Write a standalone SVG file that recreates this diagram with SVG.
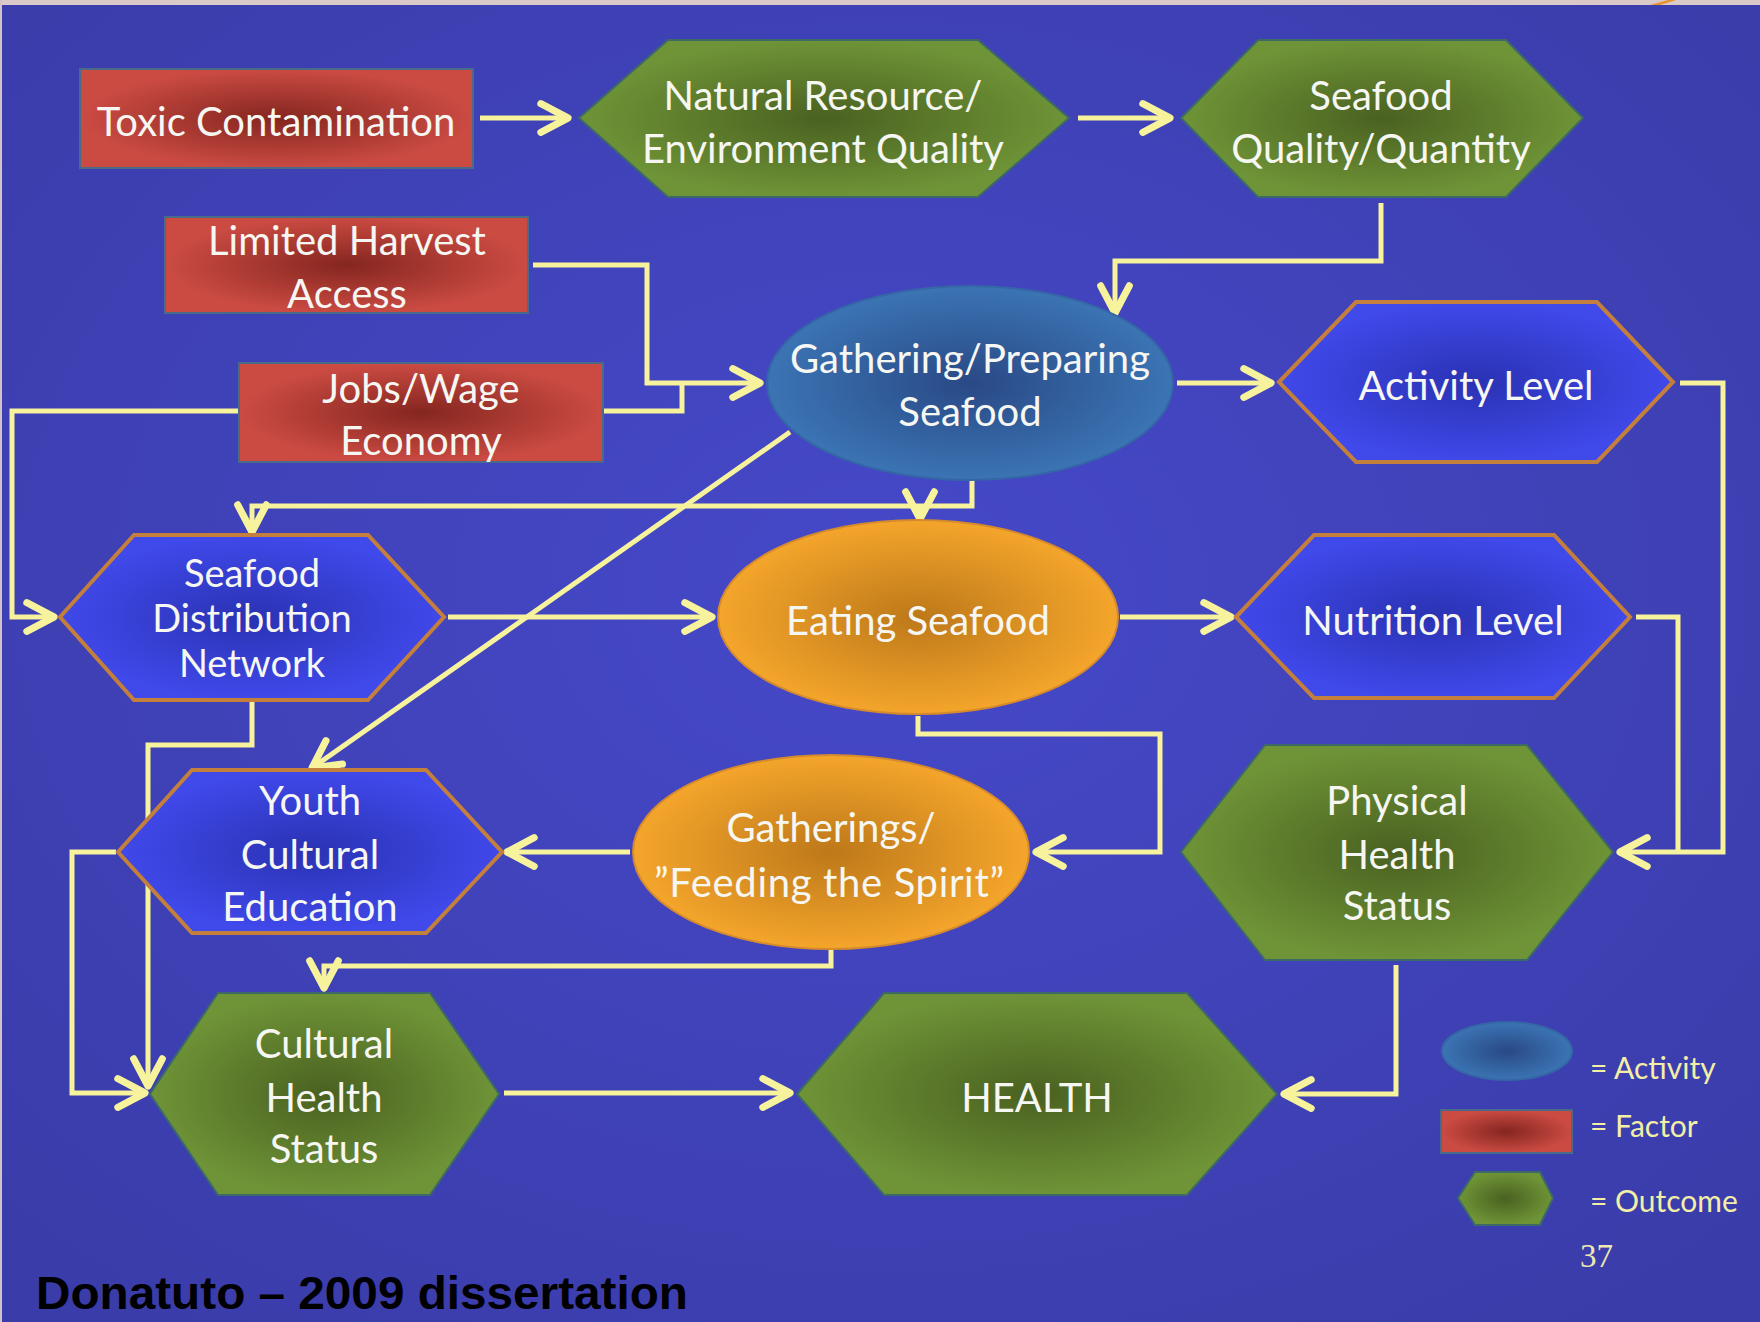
<svg xmlns="http://www.w3.org/2000/svg" width="1760" height="1322" viewBox="0 0 1760 1322">
<defs>
<radialGradient id="bg" cx="0.5" cy="0.45" r="0.7">
<stop offset="0" stop-color="#4649c9"/><stop offset="1" stop-color="#3a3ca9"/>
</radialGradient>
<radialGradient id="gRed" cx="0.5" cy="0.5" r="0.5">
<stop offset="0" stop-color="#84261f"/><stop offset="1" stop-color="#cb4b43"/>
</radialGradient>
<radialGradient id="gGreen" cx="0.5" cy="0.5" r="0.5">
<stop offset="0" stop-color="#4a6120"/><stop offset="1" stop-color="#6f9437"/>
</radialGradient>
<radialGradient id="gBlue" cx="0.5" cy="0.5" r="0.5">
<stop offset="0" stop-color="#2a32b3"/><stop offset="1" stop-color="#4049ea"/>
</radialGradient>
<radialGradient id="gAct" cx="0.5" cy="0.5" r="0.5">
<stop offset="0" stop-color="#294985"/><stop offset="1" stop-color="#3b74b4"/>
</radialGradient>
<radialGradient id="gOr" cx="0.5" cy="0.5" r="0.5">
<stop offset="0" stop-color="#bd7819"/><stop offset="1" stop-color="#f4a52b"/>
</radialGradient>
<marker id="arr" markerUnits="userSpaceOnUse" markerWidth="40" markerHeight="40" refX="0" refY="0" viewBox="-24 -14 28 28" orient="auto" overflow="visible">
<path d="M-19,-10 L0,0 L-19,10" fill="none" stroke="#f7f29c" stroke-width="5" stroke-linecap="round" stroke-linejoin="round"/>
</marker>
</defs>
<style>
.lbl{font-family:Lato,"Open Sans","Liberation Sans",sans-serif;font-size:40px;fill:#f6f6f2;text-anchor:middle}
.sm{font-size:38px}
.leg{font-family:Lato,"Open Sans","Liberation Sans",sans-serif;font-size:30px;fill:#f4efa6}
.fac{fill:url(#gRed);stroke:#4a6a8a;stroke-width:2}
.out{fill:url(#gGreen);stroke:#3d6a66;stroke-width:2}
.blu{fill:url(#gBlue);stroke:#c47f3c;stroke-width:4}
.act{fill:url(#gAct);stroke:#3566a6;stroke-width:2}
.eat{fill:url(#gOr);stroke:#d58a2c;stroke-width:2}
.c{fill:none;stroke:#f7f29c;stroke-width:5;stroke-linejoin:miter}
.a{marker-end:url(#arr)}
</style>
<rect x="0" y="0" width="1760" height="1322" fill="url(#bg)"/>
<rect x="0" y="0" width="1760" height="5" fill="#d9c9c9"/>
<rect x="0" y="0" width="2" height="1322" fill="#d0c4c8"/>
<path d="M1650,5 L1668,0 L1676,0 L1660,5 Z" fill="#e8922a"/>

<g id="connectors">
<path class="c a" d="M480,118 H568"/>
<path class="c a" d="M1078,118 H1170"/>
<path class="c a" d="M1381,203 V261 H1115 V313"/>
<path class="c a" d="M533,265 H647 V383 H760"/>
<path class="c" d="M603,411 H682 V383"/>
<path class="c a" d="M238,411 H12 V617 H54"/>
<path class="c a" d="M1177,383 H1271"/>
<path class="c a" d="M972,478 V506 H252 V532"/>
<path class="c a" d="M920,506 V519"/>
<path class="c a" d="M790,432 L312,768"/>
<path class="c a" d="M448,617 H712"/>
<path class="c a" d="M1120,617 H1231"/>
<path class="c" d="M1636,617 H1678 V852"/>
<path class="c a" d="M1680,383 H1723 V852 H1620"/>
<path class="c a" d="M918,716 V734 H1160 V852 H1036"/>
<path class="c a" d="M630,852 H507"/>
<path class="c a" d="M831,950 V966 H324 V988"/>
<path class="c a" d="M252,701 V745 H148 V1086"/>
<path class="c a" d="M116,852 H72 V1093 H145"/>
<path class="c a" d="M504,1093 H790"/>
<path class="c a" d="M1396,965 V1094 H1284"/>
</g>

<g id="toxic">
<rect class="fac" x="80" y="69" width="393" height="99"/>
<text class="lbl" x="276" y="136">Toxic Contamination</text>
</g>
<g id="harvest">
<rect class="fac" x="165" y="217" width="363" height="96"/>
<text class="lbl" x="347" y="255">Limited Harvest</text>
<text class="lbl" x="347" y="308">Access</text>
</g>
<g id="jobs">
<rect class="fac" x="239" y="363" width="364" height="99"/>
<text class="lbl" x="421" y="403">Jobs/Wage</text>
<text class="lbl" x="421" y="455">Economy</text>
</g>
<g id="natural">
<polygon class="out" points="579,118 668,40 978,40 1069,118 978,197 668,197"/>
<text class="lbl" x="823" y="110">Natural Resource/</text>
<text class="lbl" x="823" y="163">Environment Quality</text>
</g>
<g id="seafoodq">
<polygon class="out" points="1181,118 1258,40 1506,40 1583,118 1506,197 1258,197"/>
<text class="lbl" x="1381" y="110">Seafood</text>
<text class="lbl" x="1381" y="163">Quality/Quantity</text>
</g>
<g id="gathering">
<ellipse class="act" cx="970" cy="383" rx="203" ry="97"/>
<text class="lbl" x="970" y="373">Gathering/Preparing</text>
<text class="lbl" x="970" y="426">Seafood</text>
</g>
<g id="activity">
<polygon class="blu" points="1279,382 1356,302 1597,302 1673,382 1597,462 1356,462"/>
<text class="lbl" x="1476" y="400">Activity Level</text>
</g>
<g id="distribution">
<polygon class="blu" points="60,617 134,535 368,535 444,617 368,700 134,700"/>
<text class="lbl sm" x="252" y="587">Seafood</text>
<text class="lbl sm" x="252" y="632">Distribution</text>
<text class="lbl sm" x="252" y="677">Network</text>
</g>
<g id="eating">
<ellipse class="eat" cx="918" cy="617" rx="200" ry="97"/>
<text class="lbl" x="918" y="635">Eating Seafood</text>
</g>
<g id="nutrition">
<polygon class="blu" points="1236,617 1314,535 1554,535 1630,617 1554,698 1314,698"/>
<text class="lbl" x="1433" y="635">Nutrition Level</text>
</g>
<g id="youth">
<polygon class="blu" points="118,852 192,770 426,770 502,852 426,933 192,933"/>
<text class="lbl" x="310" y="815">Youth</text>
<text class="lbl" x="310" y="869">Cultural</text>
<text class="lbl" x="310" y="921">Education</text>
</g>
<g id="gatherings">
<ellipse class="eat" cx="831" cy="852" rx="198" ry="97"/>
<text class="lbl" x="831" y="842">Gatherings/</text>
<text class="lbl" x="829" y="897" textLength="350" lengthAdjust="spacing">”Feeding the Spirit”</text>
</g>
<g id="physical">
<polygon class="out" points="1181,852 1265,745 1527,745 1613,852 1527,960 1265,960"/>
<text class="lbl" x="1397" y="815">Physical</text>
<text class="lbl" x="1397" y="869">Health</text>
<text class="lbl" x="1397" y="920">Status</text>
</g>
<g id="cultural">
<polygon class="out" points="150,1094 218,993 430,993 499,1094 430,1195 218,1195"/>
<text class="lbl" x="324" y="1058">Cultural</text>
<text class="lbl" x="324" y="1112">Health</text>
<text class="lbl" x="324" y="1163">Status</text>
</g>
<g id="health">
<polygon class="out" points="797,1094 884,993 1187,993 1277,1094 1187,1195 884,1195"/>
<text class="lbl" x="1037" y="1112">HEALTH</text>
</g>

<g id="legend">
<ellipse class="act" cx="1507" cy="1051" rx="65" ry="29"/>
<text class="leg" x="1590" y="1079">= Activity</text>
<rect class="fac" x="1441" y="1110" width="131" height="43"/>
<text class="leg" x="1590" y="1137">= Factor</text>
<polygon class="out" points="1458,1198 1475,1172 1540,1172 1553,1198 1540,1225 1475,1225"/>
<text class="leg" x="1590" y="1212">= Outcome</text>
<text x="1580" y="1267" font-family="'Liberation Serif',serif" font-size="33" fill="#efe8b0">37</text>
</g>
<text x="36" y="1309" font-family="'Liberation Sans',Arial,sans-serif" font-weight="bold" font-size="47" fill="#000" textLength="652" lengthAdjust="spacingAndGlyphs">Donatuto – 2009 dissertation</text>
</svg>
